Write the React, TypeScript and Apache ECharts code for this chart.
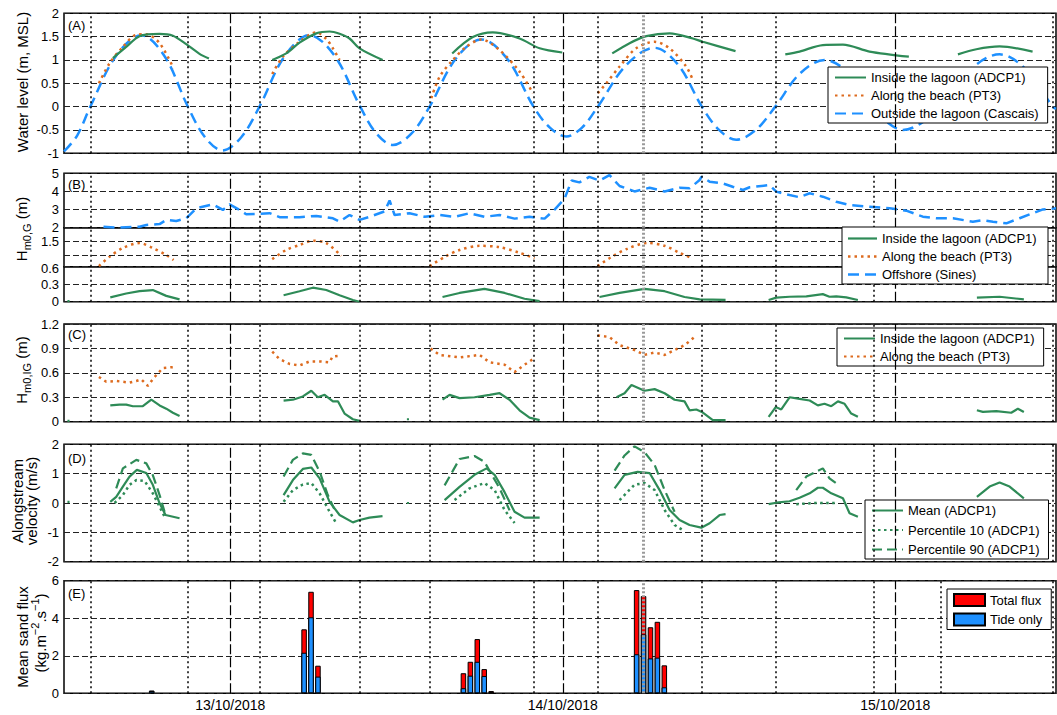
import React, { useEffect, useRef } from "react";
import * as echarts from "echarts";

// x values are hours since 13/10/2018 00:00
const X_MIN = -12;
const X_MAX = 59.6;
const dateTicks = [0, 24, 48];
const dateLabels = ["13/10/2018", "14/10/2018", "15/10/2018"];
const midnights = [0, 24, 48];
const eventTime = 29.78;
const tideLinesA = [-10.1, -3.06, 2.11, 9.38, 14.39, 21.89, 26.53, 34.04, 39.34, 59.36];
const tideLinesBCD = [-10.1, -3.06, 2.11, 9.38, 14.39, 21.89, 26.53, 34.04, 39.34, 46.43, 59.36];
const tideLinesE = [-10.1, -3.06, 2.11, 9.38, 14.39, 21.89, 26.53, 34.04, 39.34, 46.43, 51.25, 59.36];

// (A) water level (m, MSL)
const wlCascais = [
  [-12.0, -0.96], [-11.05, -0.62], [-10.1, 0], [-8.26, 1.08], [-6.42, 1.53], [-4.74, 1.08], [-3.06, 0],
  [-1.81, -0.66], [-0.56, -0.94], [0.78, -0.66], [2.11, 0], [3.92, 1.08], [5.72, 1.53], [7.55, 1.08],
  [9.38, 0], [10.56, -0.58], [11.74, -0.82], [13.07, -0.58], [14.39, 0], [16.26, 1.02], [18.12, 1.44],
  [20.0, 1.02], [21.89, 0], [23.07, -0.45], [24.25, -0.64], [25.39, -0.45], [26.53, 0], [28.58, 0.89],
  [30.63, 1.26], [32.34, 0.89], [34.04, 0], [35.28, -0.5], [36.52, -0.71], [37.93, -0.5], [39.34, 0],
  [41.12, 0.71], [42.9, 1.0], [44.67, 0.71], [46.43, 0], [47.49, -0.35], [48.55, -0.5], [49.9, -0.35],
  [51.25, 0], [53.39, 0.79], [55.53, 1.12], [57.45, 0.79], [59.36, 0], [59.6, -0.05],
];
const wlADCP1 = [
  [[-8.47, 1.04], [-7.51, 1.28], [-6.55, 1.51], [-5.1, 1.56], [-4.14, 1.52], [-3.18, 1.34], [-2.22, 1.13], [-1.54, 1.03]],
  [[3.03, 1.0], [4.04, 1.14], [5.0, 1.37], [6.21, 1.57], [7.17, 1.61], [7.89, 1.56], [8.61, 1.46], [9.33, 1.25], [11.0, 1.0]],
  [[16.02, 1.14], [17.51, 1.49], [18.95, 1.59], [20.88, 1.46], [22.33, 1.25], [23.96, 1.16]],
  [[27.57, 1.14], [28.82, 1.36], [30.03, 1.51], [31.71, 1.57], [33.39, 1.46], [34.11, 1.39], [36.47, 1.19]],
  [[40.06, 1.12], [41.09, 1.18], [42.77, 1.32], [44.22, 1.33], [46.14, 1.18], [48.98, 1.07]],
  [[52.52, 1.12], [53.85, 1.23], [55.53, 1.29], [57.91, 1.18]],
];
const wlPT3 = [
  [[-9.48, 0.5], [-8.71, 0.93], [-7.75, 1.28], [-6.78, 1.54], [-6.06, 1.55], [-5.1, 1.36], [-4.09, 0.82]],
  [[3.03, 0.7], [3.8, 1.07], [5.0, 1.39], [6.21, 1.59], [6.93, 1.45], [7.41, 1.25], [7.89, 1.0]],
  [[14.51, 0.18], [15.11, 0.64], [16.07, 1.0], [17.03, 1.28], [18.12, 1.44], [19.44, 1.21], [20.88, 0.75], [21.84, 0.29]],
  [[26.53, 0.29], [27.14, 0.5], [28.1, 0.86], [29.3, 1.25], [30.63, 1.39], [31.71, 1.25], [32.91, 0.86], [33.39, 0.57]],
];

// (B) Hm0,G (m)
const hgSines = [
  [-9.15, 2.05], [-8.23, 2.0], [-6.55, 2.05], [-6.06, 2.15], [-5.1, 2.2], [-4.62, 2.43], [-3.9, 2.37],
  [-3.18, 2.52], [-2.45, 3.07], [-1.26, 3.29], [-0.53, 2.98], [-0.05, 3.29], [0.67, 2.98], [1.15, 2.74],
  [1.88, 2.76], [2.84, 2.8], [3.56, 2.58], [5.0, 2.58], [6.21, 2.65], [7.41, 2.52], [7.89, 2.33],
  [8.61, 2.7], [9.33, 2.43], [10.05, 2.6], [11.14, 2.9], [11.5, 3.5], [11.86, 2.7], [12.94, 2.8],
  [14.03, 2.6], [15.11, 2.7], [16.19, 2.6], [17.27, 2.8], [18.35, 2.6], [19.44, 2.7], [20.52, 2.5],
  [21.6, 2.6], [22.69, 2.5], [23.41, 3.0], [24.13, 3.6], [24.64, 4.6], [25.2, 4.5], [25.92, 4.8],
  [26.65, 4.6], [27.37, 4.9], [28.1, 4.3], [29.18, 4.0], [30.27, 4.2], [31.35, 4.0], [32.43, 4.2],
  [33.15, 4.17], [33.88, 4.63], [34.02, 4.81], [34.6, 4.54], [35.53, 4.45], [36.26, 4.26], [37.0, 4.08],
  [37.49, 4.23], [38.93, 4.35], [39.41, 3.99], [40.37, 3.8], [41.09, 3.68], [41.82, 3.9], [42.77, 3.71],
  [43.74, 3.43], [44.7, 3.25], [46.14, 3.16], [47.59, 3.07], [48.79, 2.94], [49.99, 2.61], [50.96, 2.52],
  [52.16, 2.52], [53.6, 2.33], [54.32, 2.42], [55.05, 2.33], [56.01, 2.24], [56.97, 2.52], [57.93, 2.8],
  [58.66, 3.01], [59.6, 3.07],
];
const hgPT3 = [
  [[-9.48, 0.62], [-8.71, 0.96], [-7.75, 1.27], [-6.55, 1.45], [-5.59, 1.27], [-4.62, 1.02], [-4.09, 0.84]],
  [[3.03, 0.87], [4.04, 1.2], [5.0, 1.38], [5.96, 1.53], [6.93, 1.45], [8.01, 0.99]],
  [[14.39, 0.62], [15.47, 0.95], [16.55, 1.2], [17.99, 1.35], [19.44, 1.3], [20.88, 1.1], [21.96, 0.9]],
  [[26.51, 0.62], [27.52, 0.95], [28.68, 1.25], [30.12, 1.45], [31.35, 1.35], [32.43, 1.1], [33.37, 0.9]],
];
const hgADCP1 = [
  [[-11.75, 0.01], [-11.6, 0.01]],
  [[-8.66, 0.075], [-7.51, 0.14], [-6.55, 0.18], [-5.59, 0.2], [-4.62, 0.1], [-3.66, 0.04]],
  [[3.85, 0.11], [5.0, 0.18], [5.96, 0.24], [6.93, 0.2], [7.89, 0.11], [8.85, 0.03], [9.33, 0.0]],
  [[15.32, 0.08], [16.55, 0.15], [18.35, 0.22], [19.8, 0.15], [21.24, 0.05], [22.33, 0.01]],
  [[26.65, 0.08], [28.1, 0.15], [29.9, 0.22], [31.35, 0.18], [32.79, 0.08], [33.88, 0.04], [35.75, 0.03]],
  [[38.86, 0.03], [39.41, 0.07], [40.37, 0.085], [41.58, 0.09], [42.77, 0.13], [43.25, 0.085], [43.74, 0.09], [44.46, 0.075], [45.3, 0.03]],
  [[53.89, 0.07], [55.53, 0.085], [57.28, 0.04]],
];

// (C) Hm0,IG (m)
const higPT3 = [
  [[-9.48, 0.55], [-8.95, 0.49], [-8.23, 0.5], [-7.75, 0.49], [-7.27, 0.48], [-6.78, 0.5], [-6.42, 0.52], [-5.95, 0.44], [-5.46, 0.55], [-4.86, 0.66], [-4.14, 0.67]],
  [[3.03, 0.86], [3.56, 0.77], [4.28, 0.71], [5.0, 0.69], [5.72, 0.74], [6.45, 0.74], [7.17, 0.73], [7.38, 0.8], [7.89, 0.81]],
  [[14.46, 0.9], [15.11, 0.82], [16.55, 0.79], [17.99, 0.82], [18.72, 0.73], [19.8, 0.7], [20.52, 0.61], [21.24, 0.7], [21.96, 0.78]],
  [[26.51, 1.06], [27.37, 1.04], [28.1, 0.94], [29.18, 0.88], [29.9, 0.82], [30.63, 0.85], [31.35, 0.82], [32.07, 0.88], [32.79, 0.94], [33.51, 1.04]],
];
const higADCP1 = [
  [[-11.75, 0.01], [-11.6, 0.01]],
  [[-8.66, 0.2], [-7.99, 0.21], [-7.51, 0.21], [-7.03, 0.19], [-6.31, 0.19], [-5.7, 0.27], [-5.1, 0.2], [-4.62, 0.16], [-4.14, 0.11], [-3.66, 0.07]],
  [[3.85, 0.26], [4.52, 0.27], [5.24, 0.31], [5.85, 0.38], [6.32, 0.3], [6.81, 0.33], [7.41, 0.25], [7.77, 0.25], [8.25, 0.1], [8.85, 0.03], [9.33, 0.01]],
  [[12.75, 0.03], [12.9, 0.03]],
  [[15.32, 0.27], [15.83, 0.33], [16.55, 0.29], [17.63, 0.3], [18.72, 0.33], [19.44, 0.35], [20.16, 0.27], [20.88, 0.14], [21.6, 0.05], [22.33, 0.02]],
  [[27.88, 0.3], [28.46, 0.35], [28.96, 0.45], [29.9, 0.38], [30.63, 0.4], [31.35, 0.35], [32.07, 0.27], [32.79, 0.25], [33.15, 0.14], [33.64, 0.15], [34.04, 0.12], [34.83, 0.02], [35.75, 0.02]],
  [[38.86, 0.06], [39.37, 0.18], [39.77, 0.15], [40.37, 0.3], [41.09, 0.28], [41.82, 0.26], [42.41, 0.2], [42.89, 0.22], [43.38, 0.19], [43.86, 0.25], [44.34, 0.22], [44.82, 0.1], [45.3, 0.06]],
  [[53.89, 0.14], [54.32, 0.12], [55.29, 0.13], [56.37, 0.11], [56.85, 0.16], [57.28, 0.12]],
];

// (D) alongstream velocity (m/s)
const velMean = [
  [[-11.75, 0.04], [-11.6, 0.04]],
  [[-8.66, 0.04], [-8.23, 0.21], [-7.75, 0.56], [-7.27, 0.9], [-6.74, 1.13], [-6.06, 1.02], [-5.59, 0.62], [-5.1, -0.01], [-4.67, -0.41], [-3.66, -0.52]],
  [[3.85, 0.27], [4.52, 0.78], [5.24, 1.16], [5.85, 1.21], [6.45, 0.84], [7.17, 0.04], [7.89, -0.41], [8.85, -0.66], [9.33, -0.58], [10.05, -0.5], [10.99, -0.45]],
  [[12.75, 0.0], [12.9, 0.0]],
  [[15.47, 0.1], [16.55, 0.55], [17.63, 0.96], [18.5, 1.18], [19.08, 0.96], [19.8, 0.37], [20.52, -0.3], [21.24, -0.5], [22.33, -0.5]],
  [[27.74, 0.5], [28.46, 0.96], [29.4, 1.06], [30.27, 1.02], [30.99, 0.44], [31.71, -0.24], [32.43, -0.58], [33.15, -0.75], [34.0, -0.84], [34.6, -0.69], [35.32, -0.41], [35.75, -0.38]],
  [[38.86, -0.04], [39.41, 0.01], [40.37, 0.06], [41.09, 0.18], [41.82, 0.33], [42.41, 0.52], [42.77, 0.52], [43.38, 0.33], [44.22, 0.16], [44.7, -0.35], [45.3, -0.47]],
  [[53.89, 0.21], [54.81, 0.56], [55.53, 0.7], [56.25, 0.56], [57.28, 0.16]],
];
const velP10 = [
  [[-8.35, 0.0], [-7.75, 0.27], [-7.27, 0.62], [-6.78, 0.78], [-6.18, 0.75], [-5.59, 0.33], [-5.1, -0.13], [-4.74, -0.47]],
  [[3.85, 0.04], [4.52, 0.44], [5.24, 0.63], [5.85, 0.68], [6.45, 0.33], [7.17, -0.3], [7.65, -0.69]],
  [[16.19, 0.1], [17.27, 0.5], [18.35, 0.68], [19.08, 0.44], [19.8, -0.24], [20.52, -0.68]],
  [[28.1, 0.1], [29.18, 0.62], [29.9, 0.68], [30.63, 0.44], [31.35, -0.24], [32.07, -0.75], [32.65, -0.92]],
  [[40.85, -0.04], [42.29, 0.0], [43.74, 0.0]],
];
const velP90 = [
  [[-8.23, 0.5], [-7.75, 1.18], [-6.78, 1.47], [-6.06, 1.35], [-5.59, 0.95], [-5.1, 0.27], [-4.74, -0.3]],
  [[3.85, 0.9], [4.52, 1.47], [5.24, 1.69], [5.85, 1.64], [6.45, 1.07], [7.04, 0.27], [7.5, -0.2]],
  [[15.47, 0.6], [16.55, 1.5], [17.63, 1.6], [18.35, 1.4], [19.44, 0.5], [20.16, -0.25]],
  [[27.74, 1.1], [28.46, 1.62], [29.18, 1.93], [29.9, 1.73], [30.63, 1.3], [31.35, 0.44], [32.07, -0.3]],
  [[40.85, 0.44], [41.58, 0.9], [42.29, 1.07], [42.77, 1.18], [43.25, 0.84], [43.74, 0.67]],
];

// (E) mean sand flux (kg.m-2.s-1), 30-min bars
const fluxTimes = [-5.67, 5.33, 5.83, 6.33, 16.83, 17.33, 17.83, 18.33, 18.83, 29.33, 29.83, 30.33, 30.83, 31.33];
const fluxTotal = [0.15, 3.41, 5.41, 1.47, 1.07, 1.68, 2.89, 1.29, 0.12, 5.5, 5.18, 3.52, 3.81, 1.49];
const fluxTide = [0.12, 2.16, 4.05, 0.89, 0.27, 0.94, 1.68, 0.92, 0.05, 2.08, 3.14, 1.86, 1.9, 0.32];

const legendBNames = ["Inside the lagoon (ADCP1)", "Along the beach (PT3)", "Offshore (Sines)"];

const GREEN = "#2E8B57";
const ORANGE = "#DD6B1F";
const BLUE = "#1E90FF";
const FONT = "Liberation Sans, Arial, Helvetica, sans-serif";
const SOLID: any = null;
const DOTS = [2.5, 4];
const DASHES = [11, 6];

const joinSegs = (segs: number[][][]) => {
  const out: any[] = [];
  segs.forEach((s, i) => {
    if (i > 0) {
      const prev = segs[i - 1][segs[i - 1].length - 1][0];
      out.push([(prev + s[0][0]) / 2, null]);
    }
    s.forEach((p) => out.push(p));
  });
  return out;
};

const lineSeries = (name: string, gi: number, data: any[], color: string, type: any, width: number, smooth: any = false) => ({
  type: "line",
  name,
  xAxisIndex: gi,
  yAxisIndex: gi,
  data,
  symbol: "none",
  showSymbol: false,
  connectNulls: false,
  smooth,
  silent: true,
  z: 3,
  lineStyle: { color, type, width, cap: "butt" },
  itemStyle: { color },
});

const gridLineSeries = (gi: number, tideLines: number[], hLines: number[] = []) => ({
  type: "line",
  name: "_grid" + gi,
  xAxisIndex: gi,
  yAxisIndex: gi,
  data: [],
  silent: true,
  z: 1,
  markLine: {
    silent: true,
    symbol: ["none", "none"],
    label: { show: false },
    emphasis: { disabled: true },
    data: [
      ...tideLines.map((t) => ({ xAxis: t, lineStyle: { color: "#000", type: [2, 3], width: 1.5 } })),
      ...midnights.map((t) => ({ xAxis: t, lineStyle: { color: "#000", type: [10, 3], width: 1.2 } })),
      ...hLines.map((v) => ({ yAxis: v, lineStyle: { color: "#222", type: [6, 3], width: 1 } })),
    ],
  },
});

const eventLineSeries = (gi: number) => ({
  type: "line",
  name: "_event" + gi,
  xAxisIndex: gi,
  yAxisIndex: gi,
  data: [],
  silent: true,
  z: 6,
  markLine: {
    silent: true,
    symbol: ["none", "none"],
    label: { show: false },
    emphasis: { disabled: true },
    data: [{ xAxis: eventTime, lineStyle: { color: "#9a9a9a", type: [2, 2], width: 3 } }],
  },
});

const near = (a: number, b: number) => Math.abs(a - b) < 1e-6;

export default function App() {
  const ref = useRef<HTMLDivElement>(null);
  useEffect(() => {
    if (!ref.current) return;
    const chart = echarts.init(ref.current, undefined, { renderer: "svg" });
    const L = 64;
    const W = 992;
    const grids = [
      { top: 13.3, height: 140 },
      { top: 173.3, height: 54.4 },
      { top: 227.7, height: 39 },
      { top: 266.7, height: 35 },
      { top: 324, height: 97.7 },
      { top: 444.3, height: 117.4 },
      { top: 580.7, height: 112.6 },
    ];
    const yRanges: any[] = [
      { min: -1, max: 2, interval: 0.5 },
      { min: 2, max: 5, interval: 1 },
      { min: 0.6, max: 2, custom: [1, 1.5], nudge: 1, up: true },
      { min: 0, max: 0.6, interval: 0.3, nudge: 0.6, up: false },
      { min: 0, max: 1.2, interval: 0.3 },
      { min: -2, max: 2, interval: 1 },
      { min: 0, max: 6, interval: 2 },
    ];
    const splitStyle = { color: "#222", type: [6, 3], width: 1 };
    const lineLegend = { itemStyle: { opacity: 0 } };

    // hand-drawn legend box for panel B
    const lbX = 842, lbY = 227, lbW = 206, lbH = 57;
    const lbRows = [lbY + 11.5, lbY + 29.5, lbY + 47.5];
    const lbStyles = [
      { stroke: GREEN, dash: SOLID, w: 2.2 },
      { stroke: ORANGE, dash: DOTS, w: 2.5 },
      { stroke: BLUE, dash: DASHES, w: 2.5 },
    ];
    const legendBGraphics: any[] = [
      { type: "rect", z: 100, shape: { x: lbX, y: lbY, width: lbW, height: lbH }, style: { fill: "#fff", stroke: "#000", lineWidth: 1 } },
      ...legendBNames.map((n, i) => ({
        type: "line", z: 101,
        shape: { x1: lbX + 6, y1: lbRows[i], x2: lbX + 35, y2: lbRows[i] },
        style: { stroke: lbStyles[i].stroke, lineWidth: lbStyles[i].w, lineDash: lbStyles[i].dash },
      })),
      ...legendBNames.map((n, i) => ({
        type: "text", z: 101, x: lbX + 40, y: lbRows[i],
        style: { text: n, fontSize: 13, fontFamily: FONT, fill: "#000", align: "left", verticalAlign: "middle" },
      })),
    ];

    const option: any = {
      animation: false,
      textStyle: { fontFamily: FONT, color: "#000" },
      grid: grids.map((g) => ({
        left: L,
        width: W,
        top: g.top,
        height: g.height,
        show: true,
        borderColor: "#000",
        borderWidth: 1.5,
        backgroundColor: "transparent",
      })),
      xAxis: grids.map((g, i) => ({
        type: "value",
        gridIndex: i,
        min: X_MIN,
        max: X_MAX,
        splitLine: { show: false },
        axisLine: { show: false },
        axisTick: i === 6 ? { show: true, inside: true, customValues: dateTicks, length: 5, lineStyle: { color: "#000" } } : { show: false },
        axisLabel:
          i === 6
            ? {
                show: true,
                customValues: dateTicks,
                fontSize: 14,
                color: "#000",
                margin: 5,
                fontFamily: FONT,
                formatter: (v: number) => dateLabels[dateTicks.indexOf(Math.round(v))] || "",
              }
            : { show: false },
      })),
      yAxis: yRanges.map((r, i) => ({
        type: "value",
        gridIndex: i,
        min: r.min,
        max: r.max,
        interval: r.interval,
        axisLine: { show: false },
        axisTick: r.custom ? { show: false, customValues: r.custom } : { show: false },
        splitLine: r.custom ? { show: false } : { show: true, lineStyle: splitStyle },
        axisLabel: {
          fontSize: 13,
          color: "#000",
          margin: 5,
          fontFamily: FONT,
          hideOverlap: false,
          customValues: r.custom,
          formatter:
            r.nudge !== undefined
              ? (v: number) => (near(v, r.nudge) ? "{n|" + String(+v.toFixed(2)) + "}" : String(+v.toFixed(2)))
              : undefined,
          rich:
            r.nudge !== undefined
              ? { n: { fontSize: 13, fontFamily: FONT, color: "#000", padding: r.up ? [0, 0, 4, 0] : [4, 0, 0, 0] } }
              : undefined,
        },
      })),
      legend: [
        {
          data: ["Inside the lagoon (ADCP1)", "Along the beach (PT3)", "Outside the lagoon (Cascais)"],
          left: 828,
          top: 67,
          ...lineLegend,
        },
        {
          data: ["Inside the lagoon (ADCP1)", "Along the beach (PT3)"],
          left: 837,
          top: 328,
          ...lineLegend,
        },
        {
          data: ["Mean (ADCP1)", "Percentile 10 (ADCP1)", "Percentile 90 (ADCP1)"],
          left: 865,
          top: 500,
          itemGap: 6.5,
          ...lineLegend,
        },
        {
          data: ["Total flux", "Tide only"],
          left: 947,
          top: 589,
          icon: "rect",
          itemGap: 5.5,
        },
      ].map((l) => ({
        orient: "vertical",
        itemWidth: 31,
        itemHeight: 12,
        itemGap: 5,
        padding: [4, 9, 3, 6],
        backgroundColor: "#fff",
        borderColor: "#000",
        borderWidth: 1,
        borderRadius: 0,
        selectedMode: false,
        textStyle: { fontSize: 13, color: "#000", fontFamily: FONT },
        ...l,
      })),
      series: [
        gridLineSeries(0, tideLinesA),
        gridLineSeries(1, tideLinesBCD),
        gridLineSeries(2, tideLinesBCD, [1, 1.5]),
        gridLineSeries(3, tideLinesBCD),
        gridLineSeries(4, tideLinesBCD),
        gridLineSeries(5, tideLinesBCD),
        gridLineSeries(6, tideLinesE),
        lineSeries("Outside the lagoon (Cascais)", 0, wlCascais, BLUE, DASHES, 2.5, 0.35),
        lineSeries("Along the beach (PT3)", 0, joinSegs(wlPT3), ORANGE, DOTS, 2.5, 0.3),
        lineSeries("Inside the lagoon (ADCP1)", 0, joinSegs(wlADCP1), GREEN, "solid", 2.2, 0.3),
        lineSeries("Offshore (Sines)", 1, hgSines, BLUE, DASHES, 2.5),
        lineSeries("Along the beach (PT3)", 2, joinSegs(hgPT3), ORANGE, DOTS, 2.5, 0.3),
        lineSeries("Inside the lagoon (ADCP1)", 3, joinSegs(hgADCP1), GREEN, "solid", 2.2),
        lineSeries("Along the beach (PT3)", 4, joinSegs(higPT3), ORANGE, DOTS, 2.5),
        lineSeries("Inside the lagoon (ADCP1)", 4, joinSegs(higADCP1), GREEN, "solid", 2.2),
        lineSeries("Mean (ADCP1)", 5, joinSegs(velMean), GREEN, "solid", 2.2),
        lineSeries("Percentile 10 (ADCP1)", 5, joinSegs(velP10), GREEN, [2.5, 3.5], 2.5),
        lineSeries("Percentile 90 (ADCP1)", 5, joinSegs(velP90), GREEN, [10, 5], 2.2),
        {
          type: "bar",
          name: "Total flux",
          xAxisIndex: 6,
          yAxisIndex: 6,
          data: fluxTimes.map((t, i) => [t, fluxTotal[i]]),
          barWidth: 5.5,
          barGap: "-100%",
          silent: true,
          z: 3,
          itemStyle: { color: "#FF0000", borderColor: "#000", borderWidth: 1 },
        },
        {
          type: "bar",
          name: "Tide only",
          xAxisIndex: 6,
          yAxisIndex: 6,
          data: fluxTimes.map((t, i) => [t, fluxTide[i]]),
          barWidth: 5.5,
          barGap: "-100%",
          silent: true,
          z: 4,
          itemStyle: { color: BLUE, borderColor: "#000", borderWidth: 1 },
        },
        ...grids.map((g, i) => eventLineSeries(i)),
      ],
      graphic: [
        ...legendBGraphics,
        { type: "text", x: 68, y: 25, style: { text: "(A)", fontSize: 13, fontFamily: FONT, fill: "#000", align: "left", verticalAlign: "middle" } },
        { type: "text", x: 68, y: 184, style: { text: "(B)", fontSize: 13, fontFamily: FONT, fill: "#000", align: "left", verticalAlign: "middle" } },
        { type: "text", x: 68, y: 334, style: { text: "(C)", fontSize: 13, fontFamily: FONT, fill: "#000", align: "left", verticalAlign: "middle" } },
        { type: "text", x: 68, y: 458, style: { text: "(D)", fontSize: 13, fontFamily: FONT, fill: "#000", align: "left", verticalAlign: "middle" } },
        { type: "text", x: 68, y: 593, style: { text: "(E)", fontSize: 13, fontFamily: FONT, fill: "#000", align: "left", verticalAlign: "middle" } },
        {
          type: "text", x: 22, y: 82, rotation: Math.PI / 2,
          style: { text: "Water level (m, MSL)", fontSize: 15, fontFamily: FONT, fill: "#000", align: "center", verticalAlign: "middle" },
        },
        {
          type: "text", x: 21, y: 229, rotation: Math.PI / 2,
          style: {
            text: "{a|H}{b|m0,G}{a| (m)}", fontFamily: FONT, fill: "#000", align: "center", verticalAlign: "middle",
            rich: {
              a: { fontSize: 15, lineHeight: 22, fontFamily: FONT, fill: "#000" },
              b: { fontSize: 11, lineHeight: 11, verticalAlign: "bottom", fontFamily: FONT, fill: "#000" },
            },
          },
        },
        {
          type: "text", x: 21, y: 370, rotation: Math.PI / 2,
          style: {
            text: "{a|H}{b|m0,IG}{a| (m)}", fontFamily: FONT, fill: "#000", align: "center", verticalAlign: "middle",
            rich: {
              a: { fontSize: 15, lineHeight: 22, fontFamily: FONT, fill: "#000" },
              b: { fontSize: 11, lineHeight: 11, verticalAlign: "bottom", fontFamily: FONT, fill: "#000" },
            },
          },
        },
        {
          type: "text", x: 24.5, y: 501, rotation: Math.PI / 2,
          style: { text: "Alongstream\nvelocity (m/s)", fontSize: 15, lineHeight: 13.5, fontFamily: FONT, fill: "#000", align: "center", verticalAlign: "middle" },
        },
        {
          type: "text", x: 22.5, y: 637, rotation: Math.PI / 2,
          style: { text: "Mean sand flux", fontSize: 15, fontFamily: FONT, fill: "#000", align: "center", verticalAlign: "middle" },
        },
        {
          type: "text", x: 40, y: 633, rotation: Math.PI / 2,
          style: {
            text: "{a|(kg.m}{b|−2}{a|.s}{b|−1}{a|)}", fontFamily: FONT, fill: "#000", align: "center", verticalAlign: "middle",
            rich: {
              a: { fontSize: 15, lineHeight: 22, fontFamily: FONT, fill: "#000" },
              b: { fontSize: 11, lineHeight: 11, verticalAlign: "top", fontFamily: FONT, fill: "#000" },
            },
          },
        },
      ],
    };
    chart.setOption(option);
    return () => chart.dispose();
  }, []);
  return <div ref={ref} style={{ position: "absolute", left: 0, top: 0, width: 1057, height: 715 }} />;
}
